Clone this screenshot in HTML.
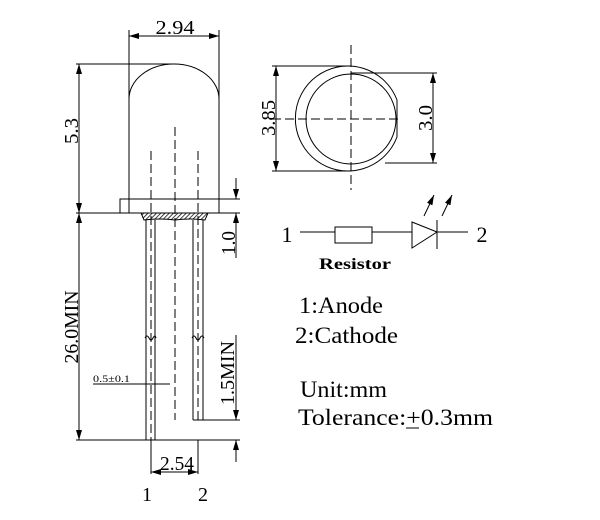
<!DOCTYPE html>
<html><head><style>html,body{margin:0;padding:0;background:#fff}svg{display:block}</style></head>
<body>
<svg width="600" height="520" viewBox="0 0 600 520" xmlns="http://www.w3.org/2000/svg" font-family="'Liberation Serif', serif" fill="none" stroke="#000" stroke-width="1">
<defs>
<marker id="a" viewBox="0 0 10 6" refX="10" refY="3" markerWidth="10" markerHeight="6" orient="auto-start-reverse" markerUnits="userSpaceOnUse"><path d="M0,0 L10,3 L0,6 z" fill="#000" stroke="none"/></marker>
<pattern id="h" width="3" height="3" patternUnits="userSpaceOnUse" patternTransform="rotate(45)"><line x1="0" y1="0" x2="0" y2="3" stroke="#000" stroke-width="1.5"/></pattern>
</defs>
<line x1="129" y1="30" x2="129" y2="99"/><line x1="219" y1="30" x2="219" y2="99"/>
<line x1="129" y1="36" x2="219" y2="36" marker-start="url(#a)" marker-end="url(#a)"/>
<text x="175" y="34" font-size="20" fill="#000" stroke="none" text-anchor="middle" textLength="39" lengthAdjust="spacingAndGlyphs">2.94</text>
<path d="M129,213 L129,99 A45,35 0 0 1 219,99 L219,213"/>
<rect x="120" y="199" width="99" height="14"/>
<line x1="219" y1="199" x2="240" y2="199"/>
<line x1="76" y1="64" x2="175" y2="64"/>
<line x1="79" y1="64" x2="79" y2="213" marker-start="url(#a)" marker-end="url(#a)"/>
<text transform="translate(78,131) rotate(-90)" font-size="20" fill="#000" stroke="none" text-anchor="middle" textLength="26" lengthAdjust="spacingAndGlyphs">5.3</text>
<line x1="76" y1="213" x2="240" y2="213"/>
<path d="M141,213 L208,213 L205,220 Q190,218 175,220 Q160,218 144,220 Z" fill="url(#h)"/>
<line x1="175" y1="127" x2="175" y2="420" stroke-dasharray="9,4"/>
<line x1="151" y1="151" x2="151" y2="440" stroke-dasharray="9,4"/>
<line x1="198" y1="151" x2="198" y2="420" stroke-dasharray="9,4"/>
<line x1="146" y1="220" x2="146" y2="440"/><line x1="155" y1="220" x2="155" y2="440"/>
<line x1="193" y1="220" x2="193" y2="420"/><line x1="203" y1="220" x2="203" y2="420"/>
<path d="M145,338 q2,-4 4,0 q2,4 4,0 q2,-4 3,0"/>
<path d="M192,338 q2,-4 4,0 q2,4 4,0 q2,-4 4,0"/>
<line x1="236" y1="178" x2="236" y2="199" marker-end="url(#a)"/>
<line x1="236" y1="258" x2="236" y2="213" marker-end="url(#a)"/>
<text transform="translate(235,243) rotate(-90)" font-size="20" fill="#000" stroke="none" text-anchor="middle" textLength="24" lengthAdjust="spacingAndGlyphs">1.0</text>
<line x1="79" y1="213" x2="79" y2="440" marker-start="url(#a)" marker-end="url(#a)"/>
<text transform="translate(78,327) rotate(-90)" font-size="20" fill="#000" stroke="none" text-anchor="middle" textLength="73" lengthAdjust="spacingAndGlyphs">26.0MIN</text>
<line x1="76" y1="440" x2="240" y2="440"/>
<line x1="193" y1="420" x2="240" y2="420"/>
<line x1="236" y1="335" x2="236" y2="420" marker-end="url(#a)"/>
<line x1="236" y1="462" x2="236" y2="440" marker-end="url(#a)"/>
<text transform="translate(234,373) rotate(-90)" font-size="20" fill="#000" stroke="none" text-anchor="middle" textLength="64" lengthAdjust="spacingAndGlyphs">1.5MIN</text>
<text x="93" y="382" font-size="9" fill="#000" stroke="none" textLength="37" lengthAdjust="spacingAndGlyphs">0.5±0.1</text>
<line x1="93" y1="384" x2="170" y2="384"/>
<line x1="151" y1="440" x2="151" y2="474"/><line x1="198" y1="440" x2="198" y2="474"/>
<line x1="151" y1="472" x2="198" y2="472" marker-start="url(#a)" marker-end="url(#a)"/>
<text x="177" y="470" font-size="20" fill="#000" stroke="none" text-anchor="middle" textLength="34" lengthAdjust="spacingAndGlyphs">2.54</text>
<text x="147" y="501" font-size="20" fill="#000" stroke="none" text-anchor="middle">1</text>
<text x="203" y="501" font-size="20" fill="#000" stroke="none" text-anchor="middle">2</text>
<path d="M397,100 A52.5,52.5 0 1 0 397,137 Z"/>
<circle cx="351" cy="119" r="45"/>
<line x1="351" y1="45" x2="351" y2="190" stroke-dasharray="9,4"/>
<line x1="272" y1="119" x2="400" y2="119" stroke-dasharray="9,4"/>
<line x1="272" y1="66" x2="351" y2="66"/><line x1="272" y1="171" x2="351" y2="171"/>
<line x1="276" y1="66" x2="276" y2="171" marker-start="url(#a)" marker-end="url(#a)"/>
<text transform="translate(275,118) rotate(-90)" font-size="20" fill="#000" stroke="none" text-anchor="middle" textLength="36" lengthAdjust="spacingAndGlyphs">3.85</text>
<line x1="351" y1="73" x2="437" y2="73"/><line x1="385" y1="163" x2="437" y2="163"/>
<line x1="433" y1="73" x2="433" y2="163" marker-start="url(#a)" marker-end="url(#a)"/>
<text transform="translate(432,118) rotate(-90)" font-size="20" fill="#000" stroke="none" text-anchor="middle" textLength="26" lengthAdjust="spacingAndGlyphs">3.0</text>
<text x="287" y="242" font-size="22" fill="#000" stroke="none" text-anchor="middle">1</text>
<line x1="300" y1="232" x2="335" y2="232"/>
<rect x="335" y="227" width="37" height="16"/>
<line x1="372" y1="232" x2="412" y2="232"/>
<path d="M412,222 L437,232 L412,248 Z"/>
<line x1="437" y1="220" x2="437" y2="249"/>
<line x1="437" y1="232" x2="468" y2="232"/>
<text x="482" y="242" font-size="22" fill="#000" stroke="none" text-anchor="middle">2</text>
<line x1="424" y1="216" x2="434" y2="195" marker-end="url(#a)"/>
<line x1="442" y1="216" x2="452" y2="195" marker-end="url(#a)"/>
<text x="355" y="269" font-size="16" font-weight="bold" fill="#000" stroke="none" text-anchor="middle" textLength="72" lengthAdjust="spacingAndGlyphs">Resistor</text>
<g fill="#000" stroke="none" font-size="23">
<text x="299" y="313" textLength="84" lengthAdjust="spacingAndGlyphs">1:Anode</text>
<text x="295" y="343" textLength="103" lengthAdjust="spacingAndGlyphs">2:Cathode</text>
<text x="300" y="397" textLength="87" lengthAdjust="spacingAndGlyphs">Unit:mm</text>
<text x="298" y="425" textLength="195" lengthAdjust="spacingAndGlyphs">Tolerance:+0.3mm</text>
</g>
<line x1="406" y1="428" x2="419" y2="428" stroke="#000"/>
</svg>
</body></html>
